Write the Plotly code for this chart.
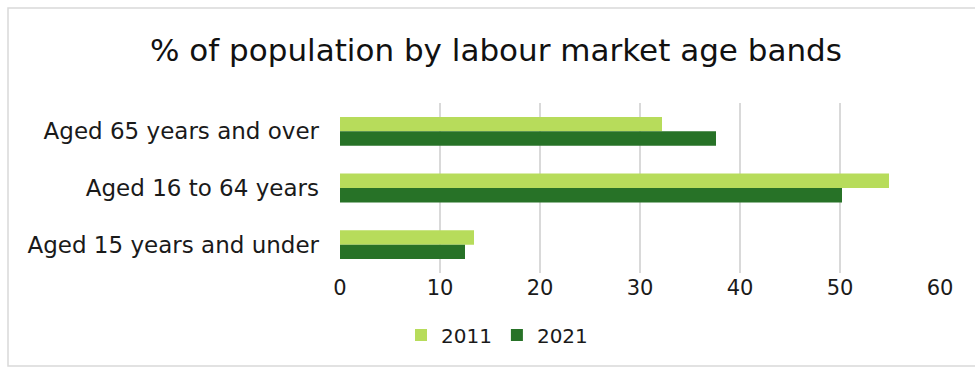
import plotly.graph_objects as go

# Age bands, listed top to bottom
categories = ["Aged 65 years and over", "Aged 16 to 64 years", "Aged 15 years and under"]
values_2011 = [32.2, 54.9, 13.4]
values_2021 = [37.6, 50.2, 12.5]
x_ticks = [0, 10, 20, 30, 40, 50, 60]

W, H = 975, 368
ML, MR, MT, MB = 340, 35, 103, 95

FONT = "DejaVu Sans"
TEXT = "#1A1A1A"

fig = go.Figure()
fig.add_trace(go.Bar(name="2011", y=categories, x=values_2011, orientation="h",
                     marker=dict(color="#B7DC5B", line=dict(width=0))))
fig.add_trace(go.Bar(name="2021", y=categories, x=values_2021, orientation="h",
                     marker=dict(color="#277227", line=dict(width=0))))

# light border framing the chart
pw, ph = W - ML - MR, H - MT - MB
def px_x(p):
    return (p - ML) / pw
def px_y(p):
    return (H - MB - p) / ph
fig.add_shape(type="rect", xref="paper", yref="paper",
              x0=px_x(8), x1=px_x(990), y0=px_y(8), y1=px_y(366),
              line=dict(color="#D9D9D9", width=1.5), fillcolor="rgba(0,0,0,0)", layer="below")

fig.update_layout(
    width=W, height=H,
    margin=dict(l=ML, r=MR, t=MT, b=MB),
    paper_bgcolor="white", plot_bgcolor="white",
    barmode="group", bargap=0.49, bargroupgap=0,
    font=dict(family=FONT, color=TEXT),
    title=dict(text="% of population by labour market age bands",
               x=496 / W, xref="container", xanchor="center",
               y=1 - 50 / H, yref="container", yanchor="middle",
               font=dict(size=31, family=FONT, color="#111111")),
    xaxis=dict(range=[0, 60], tickvals=x_ticks, showgrid=True, gridcolor="#D9D9D9",
               gridwidth=1.5, zeroline=False, showline=False, ticks="",
               tickfont=dict(size=21, family=FONT, color=TEXT)),
    yaxis=dict(autorange="reversed", showgrid=False, ticks="", showline=False,
               ticklabelstandoff=20,
               tickfont=dict(size=23, family=FONT, color=TEXT)),
    legend=dict(orientation="h", xref="container", yref="container",
                x=497 / W, xanchor="center", y=1 - 335 / H, yanchor="middle",
                font=dict(size=20, family=FONT, color=TEXT),
                itemwidth=30),
)

fig.write_html("out.html")
